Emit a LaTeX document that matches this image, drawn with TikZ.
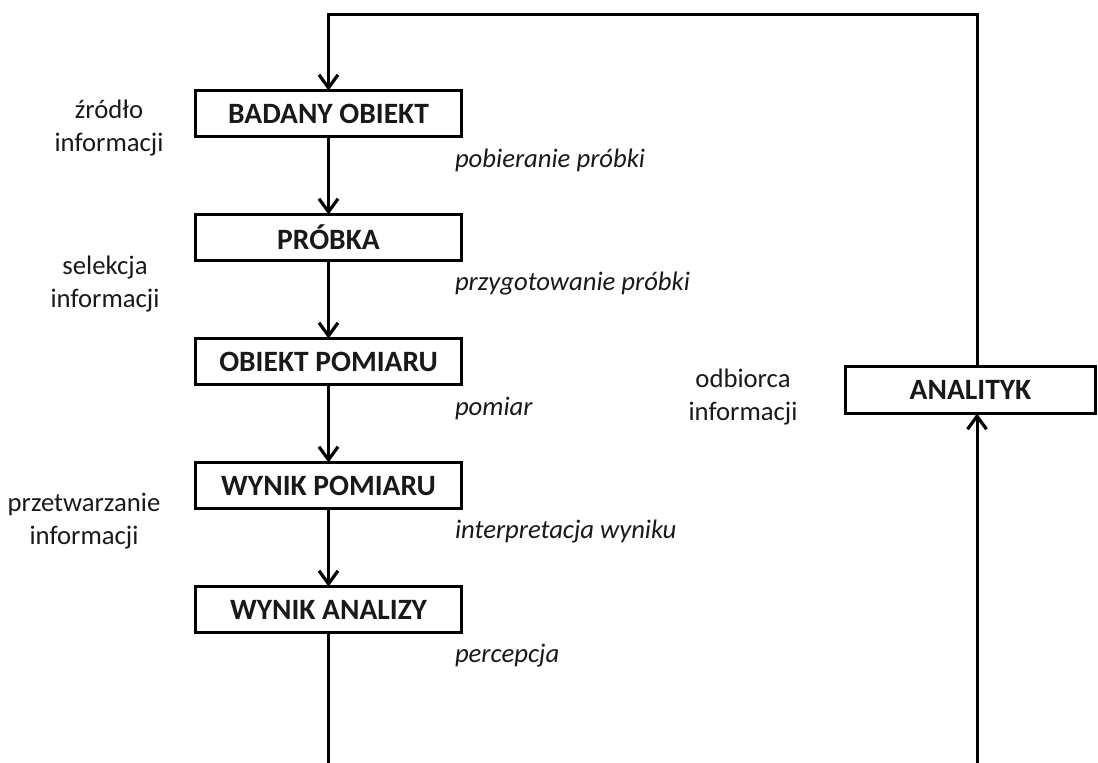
\documentclass[tikz,border=0pt]{standalone}
\usepackage{fontspec}
\setmainfont{Carlito}
\usetikzlibrary{arrows.meta}
\begin{document}
\begin{tikzpicture}[x=1pt,y=-1pt,
  every node/.style={inner sep=0pt,outer sep=0pt,text=black!90},
  stepbox/.style={draw=black,line width=3pt,minimum width=266pt,minimum height=46pt,
    font=\fontsize{29.5}{32}\selectfont\bfseries},
  sidenote/.style={align=center,font=\fontsize{26.7}{33}\selectfont},
  actnote/.style={anchor=west,font=\fontsize{26.7}{30}\selectfont\itshape},
  flow/.style={line width=3pt},
  arr/.style={flow,-{Straight Barb[length=13pt,width=19pt,line width=3.2pt]}}]
  \useasboundingbox (0,0) rectangle (1098,763);

  % main chain of stages
  \node[stepbox] (obiekt)  at (328.5,113.5) {BADANY OBIEKT};
  \node[stepbox] (probka)  at (328.5,237.5) {PRÓBKA};
  \node[stepbox] (pomiar)  at (328.5,361.5) {OBIEKT POMIARU};
  \node[stepbox] (wynikp)  at (328.5,485.5) {WYNIK POMIARU};
  \node[stepbox] (wynika)  at (328.5,609.5) {WYNIK ANALIZY};
  \node[stepbox,minimum width=250pt,minimum height=47pt] (analityk) at (970.5,390) {ANALITYK};

  % side descriptions
  \node[sidenote] (zrodlo)    at (109,128) {źródło\\informacji};
  \node[sidenote] (selekcja)  at (105,284) {selekcja\\informacji};
  \node[sidenote] (przetw)    at (84,521)  {przetwarzanie\\informacji};
  \node[sidenote] (odbiorca)  at (743,397) {odbiorca\\informacji};

  % activity labels
  \node[actnote] (a1) at (455,160) {pobieranie próbki};
  \node[actnote] (a2) at (455,284) {przygotowanie próbki};
  \node[actnote] (a3) at (455,408) {pomiar};
  \node[actnote] (a4) at (455,532) {interpretacja wyniku};
  \node[actnote] (a5) at (455,656) {percepcja};

  % arrows between stages
  \draw[arr] (obiekt) -- (probka);
  \draw[arr] (probka) -- (pomiar);
  \draw[arr] (pomiar) -- (wynikp);
  \draw[arr] (wynikp) -- (wynika);

  % feedback loop
  \coordinate (tl) at (328.5,14);
  \coordinate (tr) at (977,14);
  \coordinate (bl) at (328.5,765);
  \coordinate (br) at (977,765);
  \draw[arr] (analityk.north -| tr) -- (tr) -- (tl) -- (obiekt.north);
  \draw[flow] (wynika.south) -- (bl);
  \draw[arr] (br) -- (analityk.south -| br);
\end{tikzpicture}
\end{document}
